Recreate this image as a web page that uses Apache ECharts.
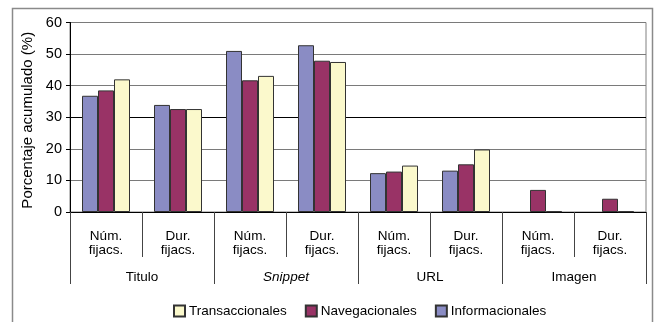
<!DOCTYPE html>
<html><head><meta charset="utf-8">
<script src="https://cdn.jsdelivr.net/npm/echarts@6/dist/echarts.min.js"></script>
<style>html,body{margin:0;padding:0;background:#fff}#c{width:660px;height:322px}</style>
</head><body><div id="c"></div>
<script>
const categories = ['Núm.\nfijacs.','Dur.\nfijacs.','Núm.\nfijacs.','Dur.\nfijacs.','Núm.\nfijacs.','Dur.\nfijacs.','Núm.\nfijacs.','Dur.\nfijacs.'];
const groups = ['Titulo','Snippet','URL','Imagen'];
const informacionales = [36.8, 33.9, 51.0, 52.8, 12.3, 13.1, null, null];
const navegacionales  = [38.5, 32.6, 41.7, 47.9, 12.8, 15.1, 7.0, 4.2];
const transaccionales = [42.0, 32.6, 43.1, 47.5, 14.7, 19.8, 0.2, 0.2];
const yTicks = [0, 10, 20, 30, 40, 50, 60];

const FONT = 'Liberation Sans';
const chart = echarts.init(document.getElementById('c'), null, {renderer: 'canvas'});
const barStyle = c => ({color: c, borderColor: '#333', borderWidth: 1});
chart.setOption({
  animation: false,
  textStyle: {fontFamily: FONT, color: '#000'},
  graphic: [{type: 'rect', shape: {x: 12.5, y: 8.5, width: 640, height: 330},
    style: {fill: 'none', stroke: '#8a8a8a', lineWidth: 1.5}, z: -1}],
  grid: {left: 70, right: 14, top: 22.5, bottom: 110, show: true, borderColor: '#808080', borderWidth: 1},
  legend: {
    data: ['Transaccionales', 'Navegacionales', 'Informacionales'],
    left: 168, top: 299, itemWidth: 11, itemHeight: 11, itemGap: 18, icon: 'rect',
    textStyle: {fontFamily: FONT, fontSize: 13.5, color: '#000', padding: [0, 0, 0, -1]}
  },
  xAxis: [{
    type: 'category', data: categories, position: 'bottom',
    axisLine: {lineStyle: {color: '#000', width: 1}},
    axisTick: {show: true, length: 45, interval: 0, lineStyle: {color: '#444'}},
    axisLabel: {interval: 0, margin: 17, fontSize: 13.5, lineHeight: 14.5, color: '#000', fontFamily: FONT}
  }, {
    type: 'category', data: groups, position: 'bottom', gridIndex: 0,
    axisLine: {show: false},
    axisTick: {show: true, length: 72, interval: 0, lineStyle: {color: '#444'}},
    axisLabel: {interval: 0, margin: 58, fontSize: 13.5, color: '#000', fontFamily: FONT,
      formatter: v => v === 'Snippet' ? '{i|' + v + '}' : v,
      rich: {i: {fontStyle: 'italic', fontSize: 13.5, fontFamily: FONT, color: '#000'}}}
  }],
  yAxis: {
    type: 'value', min: 0, max: 60, interval: 10,
    name: 'Porcentaje acumulado (%)', nameLocation: 'middle', nameGap: 31,
    nameTextStyle: {fontSize: 15, fontFamily: FONT, color: '#000', padding: [0, 0, 0, -6]},
    axisLine: {show: true, lineStyle: {color: '#000'}},
    axisTick: {show: true, length: 4, lineStyle: {color: '#000'}},
    axisLabel: {fontSize: 14.5, margin: 8, color: '#000', fontFamily: FONT,
      formatter: v => yTicks.includes(v) ? String(v) : ''},
    splitLine: {show: true, lineStyle: {color: ['#7a7a7a','#7a7a7a','#7a7a7a','#000','#7a7a7a','#7a7a7a','#7a7a7a'], width: 1}}
  },
  series: [
    {name: 'Informacionales', type: 'bar', data: informacionales, barWidth: 16, barGap: '0%', itemStyle: barStyle('#8a8cc4')},
    {name: 'Navegacionales', type: 'bar', data: navegacionales, barWidth: 16, barGap: '0%', itemStyle: barStyle('#993366')},
    {name: 'Transaccionales', type: 'bar', data: transaccionales, barWidth: 16, barGap: '0%', itemStyle: barStyle('#fbf9cc')}
  ]
});
</script></body></html>
